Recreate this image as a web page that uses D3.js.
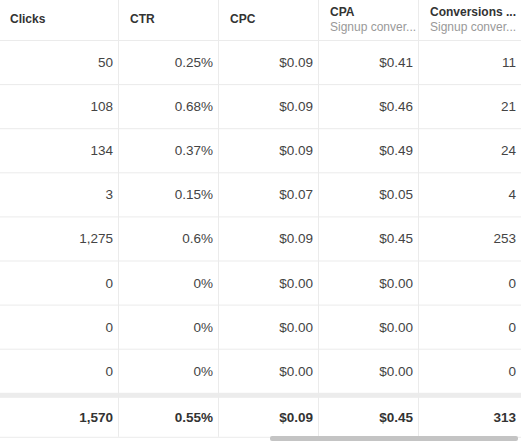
<!DOCTYPE html>
<html><head><meta charset="utf-8">
<script src="https://cdn.jsdelivr.net/npm/d3@7"></script>
<style>body{margin:0;background:#fff;font-family:"Liberation Sans",Arial,sans-serif;}</style>
</head><body>
<script>
const columns = ["Clicks", "CTR", "CPC", "CPA", "Conversions ..."];
const subtitles = ["", "", "", "Signup conver...", "Signup conver..."];
const clicks = ["50", "108", "134", "3", "1,275", "0", "0", "0"];
const ctr = ["0.25%", "0.68%", "0.37%", "0.15%", "0.6%", "0%", "0%", "0%"];
const cpc = ["$0.09", "$0.09", "$0.09", "$0.07", "$0.09", "$0.00", "$0.00", "$0.00"];
const cpa = ["$0.41", "$0.46", "$0.49", "$0.05", "$0.45", "$0.00", "$0.00", "$0.00"];
const conversions = ["11", "21", "24", "4", "253", "0", "0", "0"];
const totals = ["1,570", "0.55%", "$0.09", "$0.45", "313"];

const W = 521, H = 441, headH = 40, rowH = 44.1, sepH = 5, totH = 39;
const cols = [clicks, ctr, cpc, cpa, conversions];
const x = d3.scaleOrdinal().domain(d3.range(5)).range([0, 118, 218, 318, 418]);
const cw = [118, 100, 100, 100, 103];
const y = d3.scaleBand().domain(d3.range(clicks.length)).range([headH, headH + rowH * clicks.length]);
const svg = d3.select("body").append("svg").attr("width", W).attr("height", H);
const grid = "#ebebeb";
const bodyEnd = headH + rowH * clicks.length;

// horizontal lines
svg.selectAll(".hl").data(d3.range(clicks.length)).join("line")
  .attr("x1", 0).attr("x2", W).attr("y1", d => y(d) + 0.5).attr("y2", d => y(d) + 0.5)
  .attr("stroke", grid);
svg.append("rect").attr("x", 0).attr("y", bodyEnd).attr("width", W).attr("height", sepH).attr("fill", "#ececec");
svg.append("line").attr("x1", 0).attr("x2", W).attr("y1", bodyEnd + sepH + totH + 0.5).attr("y2", bodyEnd + sepH + totH + 0.5).attr("stroke", grid);
// vertical lines
svg.selectAll(".vl").data(d3.range(1, 5)).join("line")
  .attr("x1", d => x(d) + 0.5).attr("x2", d => x(d) + 0.5).attr("y1", 0).attr("y2", bodyEnd + sepH + totH)
  .attr("stroke", grid);

// header
columns.forEach((c, i) => {
  const sub = subtitles[i];
  svg.append("text").attr("x", x(i) + (i ? 12 : 10)).attr("y", sub ? 16 : 23)
    .attr("font-size", 12).attr("font-weight", "bold").attr("fill", "#333").text(c);
  if (sub) svg.append("text").attr("x", x(i) + 12).attr("y", 31)
    .attr("font-size", 12).attr("fill", "#999").text(sub);
});

// body
cols.forEach((vals, i) => {
  svg.selectAll(".c" + i).data(vals).join("text")
    .attr("x", x(i) + cw[i] - 5).attr("y", (d, j) => y(j) + y.bandwidth() / 2 + 5)
    .attr("text-anchor", "end").attr("font-size", 13.5).attr("fill", "#444").text(d => d);
});
// totals
svg.selectAll(".tot").data(totals).join("text")
  .attr("x", (d, i) => x(i) + cw[i] - 5).attr("y", bodyEnd + sepH + totH / 2 + 5)
  .attr("text-anchor", "end").attr("font-size", 13.5).attr("font-weight", "bold").attr("fill", "#333").text(d => d);
// scrollbar
svg.append("rect").attr("x", 270).attr("y", 436).attr("width", 248).attr("height", 5).attr("rx", 2).attr("fill", "#c4c4c4");
</script>
</body></html>
